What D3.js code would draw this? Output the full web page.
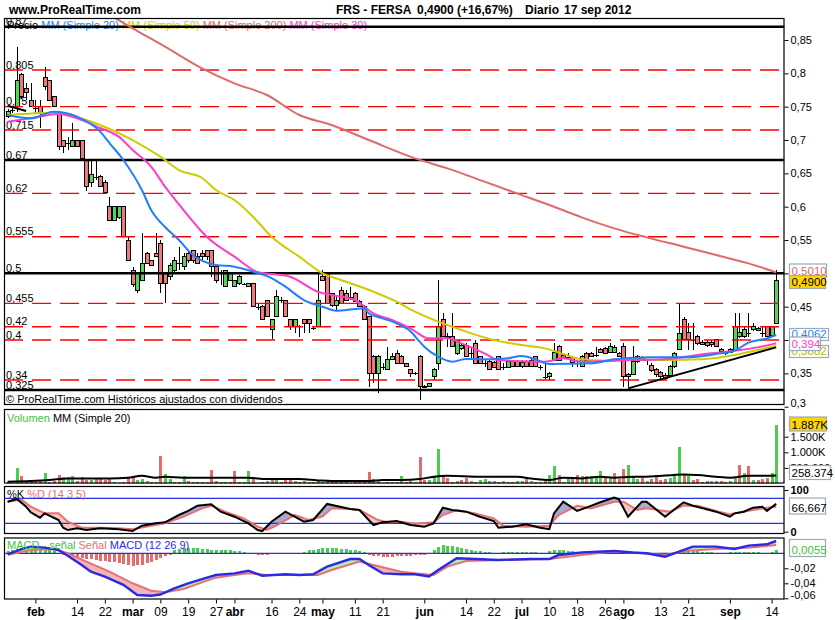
<!DOCTYPE html>
<html><head><meta charset="utf-8">
<script src="https://cdn.jsdelivr.net/npm/d3@7/dist/d3.min.js"></script>
<style>
html,body{margin:0;padding:0;background:#fff;}
svg{display:block;font-family:"Liberation Sans",Arial,Helvetica,sans-serif;}
</style></head><body>
<svg id="chart" width="835" height="620"></svg>
<script>
// ================= DATA =================
const holidays = ["2012-04-06","2012-04-09","2012-05-01"];
const firstDay = "2012-01-24", lastDay = "2012-09-17";

const opens = [
0.735,0.745,0.75,0.799,0.777,0.76,0.748,0.75,0.794,0.789,
0.765,0.74,0.70,0.695,0.69,0.70,0.70,0.67,0.636,0.645,
0.645,0.636,0.60,0.58,0.584,0.60,0.55,0.505,0.475,0.49,
0.53,0.52,0.53,0.545,0.50,0.495,0.505,0.515,0.51,0.53,
0.535,0.525,0.53,0.535,0.534,0.51,0.50,0.481,0.49,0.481,
0.485,0.484,0.481,0.485,0.45,0.45,0.459,0.416,0.436,0.46,
0.459,0.431,0.421,0.421,0.431,0.431,0.418,0.421,0.496,0.50,
0.47,0.4515,0.475,0.47,0.465,0.47,0.4575,0.451,0.435,0.376,
0.35,0.36,0.356,0.371,0.38,0.376,0.365,0.356,0.35,0.376,
0.331,0.33,0.345,0.365,0.431,0.406,0.406,0.38,0.3875,0.3925,
0.38,0.395,0.375,0.365,0.3675,0.366,0.375,0.36,0.359,0.3675,
0.3675,0.36,0.3675,0.37,0.375,0.36,0.345,0.345,0.37,0.391,
0.3775,0.375,0.374,0.365,0.361,0.38,0.38,0.378,0.386,0.3875,
0.381,0.381,0.38,0.391,0.345,0.349,0.3675,0.374,0.37,0.3625,
0.356,0.352,0.3475,0.3475,0.36,0.386,0.431,0.411,0.40,0.406,
0.397,0.397,0.397,0.401,0.386,0.38,0.3815,0.385,0.405,0.405,
0.41,0.416,0.418,0.41,0.42,0.4075,0.425];
const highs = [
0.746,0.75,0.84,0.80,0.785,0.785,0.76,0.76,0.81,0.79,
0.766,0.742,0.70,0.705,0.725,0.70,0.70,0.67,0.67,0.67,
0.648,0.64,0.615,0.60,0.60,0.60,0.555,0.51,0.50,0.56,
0.532,0.52,0.56,0.55,0.50,0.515,0.525,0.54,0.53,0.535,
0.535,0.53,0.535,0.535,0.535,0.51,0.505,0.505,0.502,0.49,
0.497,0.486,0.486,0.486,0.455,0.452,0.46,0.432,0.475,0.465,
0.46,0.432,0.432,0.422,0.432,0.432,0.42,0.505,0.505,0.502,
0.47,0.465,0.48,0.475,0.48,0.472,0.46,0.452,0.435,0.378,
0.378,0.365,0.39,0.38,0.385,0.378,0.366,0.357,0.352,0.378,
0.333,0.336,0.358,0.49,0.44,0.41,0.44,0.40,0.395,0.395,
0.39,0.40,0.376,0.37,0.37,0.368,0.376,0.365,0.37,0.37,
0.37,0.37,0.37,0.372,0.376,0.362,0.365,0.352,0.395,0.392,
0.38,0.38,0.376,0.37,0.378,0.382,0.382,0.39,0.388,0.39,
0.395,0.392,0.382,0.395,0.35,0.391,0.378,0.376,0.372,0.365,
0.358,0.354,0.35,0.362,0.382,0.455,0.435,0.425,0.425,0.408,
0.40,0.40,0.40,0.402,0.388,0.383,0.388,0.441,0.44,0.42,
0.44,0.425,0.42,0.42,0.421,0.42,0.505];
const lows = [
0.733,0.74,0.742,0.762,0.76,0.75,0.74,0.718,0.775,0.76,
0.75,0.685,0.68,0.685,0.69,0.69,0.67,0.624,0.63,0.64,
0.63,0.62,0.58,0.58,0.582,0.556,0.52,0.48,0.47,0.49,
0.515,0.512,0.525,0.47,0.455,0.49,0.50,0.505,0.505,0.515,
0.515,0.515,0.52,0.52,0.495,0.485,0.483,0.48,0.488,0.48,
0.483,0.482,0.48,0.45,0.445,0.43,0.436,0.402,0.435,0.455,
0.436,0.415,0.41,0.405,0.41,0.41,0.415,0.42,0.488,0.455,
0.45,0.445,0.455,0.46,0.46,0.457,0.45,0.43,0.33,0.335,
0.32,0.355,0.355,0.37,0.365,0.365,0.36,0.345,0.348,0.31,
0.328,0.329,0.34,0.355,0.405,0.39,0.39,0.378,0.385,0.375,
0.37,0.365,0.365,0.36,0.355,0.358,0.356,0.355,0.358,0.36,
0.36,0.358,0.36,0.36,0.36,0.355,0.342,0.34,0.368,0.37,
0.372,0.37,0.36,0.36,0.36,0.37,0.375,0.375,0.38,0.38,
0.38,0.38,0.374,0.33,0.33,0.348,0.366,0.368,0.362,0.352,
0.345,0.34,0.34,0.345,0.358,0.385,0.40,0.385,0.385,0.393,
0.392,0.39,0.39,0.39,0.38,0.378,0.38,0.384,0.403,0.403,
0.405,0.414,0.413,0.405,0.405,0.405,0.424];
const closes = [
0.743,0.745,0.789,0.765,0.772,0.75,0.748,0.74,0.78,0.76,
0.75,0.69,0.69,0.695,0.70,0.69,0.672,0.63,0.648,0.645,
0.63,0.621,0.58,0.60,0.60,0.556,0.52,0.483,0.50,0.515,
0.515,0.512,0.525,0.485,0.485,0.512,0.52,0.515,0.525,0.52,
0.52,0.515,0.525,0.525,0.51,0.49,0.50,0.504,0.50,0.489,
0.495,0.484,0.485,0.451,0.45,0.431,0.436,0.431,0.465,0.46,
0.436,0.421,0.431,0.421,0.425,0.425,0.418,0.459,0.49,0.455,
0.452,0.46,0.455,0.46,0.465,0.4575,0.45,0.431,0.35,0.35,
0.376,0.36,0.371,0.376,0.365,0.365,0.361,0.35,0.35,0.33,
0.329,0.335,0.356,0.42,0.406,0.405,0.39,0.40,0.3925,0.376,
0.38,0.365,0.365,0.365,0.356,0.359,0.356,0.36,0.3675,0.36,
0.36,0.366,0.3605,0.3605,0.3605,0.36,0.345,0.35,0.381,0.37,
0.373,0.375,0.367,0.365,0.375,0.37,0.376,0.378,0.381,0.3805,
0.391,0.389,0.375,0.345,0.349,0.3675,0.375,0.37,0.37,0.355,
0.349,0.345,0.3425,0.36,0.38,0.41,0.401,0.401,0.40,0.395,
0.394,0.3925,0.394,0.391,0.3825,0.38,0.386,0.42,0.411,0.416,
0.41,0.42,0.415,0.41,0.406,0.42,0.49];

// volume in thousands of shares
const volumes = [
40,20,500,240,60,80,40,110,340,50,
80,260,210,210,230,80,220,110,110,130,
130,110,130,60,30,60,180,200,110,150,
80,60,60,870,300,150,60,40,230,80,
40,40,50,40,430,80,60,60,60,410,
60,60,410,170,30,60,90,150,130,40,
100,100,90,60,80,60,40,100,60,80,
40,50,60,40,30,60,80,60,370,130,
100,30,60,60,60,250,60,80,40,850,
111,111,216,1100,248,185,57,79,111,185,
79,57,111,142,79,79,57,79,57,57,
79,79,142,79,57,57,79,280,560,280,
57,142,142,260,248,248,248,216,395,164,
164,350,142,460,590,248,142,164,79,142,
260,111,142,164,290,1180,290,250,111,142,
57,79,79,79,79,57,79,164,600,330,
560,111,111,142,164,350,1887];

// moving averages: [candle index, value]
const ma20 = [[0,0.7375],[5,0.7326],[10,0.7425],[15,0.735],[20,0.7125],[22,0.6955],[25,0.67],[29,0.625],[31,0.595],[34,0.5695],[37,0.55],[40,0.5275],[45,0.5125],[49,0.51],[53,0.5025],[57,0.493],[60,0.48],[64,0.46],[68,0.45],[71,0.444],[75,0.4465],[77,0.4475],[78,0.44],[81,0.4325],[84,0.425],[87,0.413],[89,0.3975],[90,0.39],[93,0.375],[96,0.3675],[99,0.3715],[105,0.371],[108,0.3725],[111,0.376],[114,0.371],[117,0.364],[126,0.365],[131,0.371],[139,0.374],[146,0.374],[153,0.379],[157,0.384],[160,0.396],[164,0.4025],[166,0.4075]];
const ma30 = [[0,0.7275],[5,0.7325],[11,0.739],[16,0.73],[20,0.718],[24,0.705],[27,0.685],[31,0.66],[34,0.63],[38,0.595],[43,0.555],[49,0.525],[54,0.502],[61,0.495],[67,0.4725],[70,0.4675],[75,0.46],[79,0.44],[83,0.43],[87,0.4175],[91,0.4025],[95,0.4025],[98,0.395],[103,0.38],[106,0.37],[116,0.3675],[120,0.3725],[124,0.3675],[130,0.3685],[135,0.37],[142,0.371],[149,0.3775],[157,0.384],[162,0.389],[166,0.395]];
const ma50 = [[0,0.7375],[10,0.741],[13,0.7375],[20,0.7225],[27,0.70],[33,0.675],[37,0.655],[42,0.643],[45,0.625],[49,0.61],[53,0.585],[57,0.555],[63,0.525],[68,0.50],[72,0.49],[79,0.4725],[84,0.4575],[87,0.446],[93,0.4275],[98,0.415],[105,0.40],[111,0.3925],[116,0.3875],[120,0.379],[124,0.371],[129,0.369],[135,0.371],[142,0.37],[150,0.371],[157,0.3775],[162,0.385],[166,0.391]];
const ma200 = [[21,0.892],[27,0.8675],[34,0.84],[42,0.8075],[49,0.785],[56,0.7675],[63,0.7375],[70,0.7225],[78,0.70],[88,0.6725],[95,0.6575],[103,0.6375],[110,0.62],[117,0.6025],[124,0.584],[131,0.5675],[138,0.554],[146,0.54],[153,0.5275],[160,0.515],[166,0.5015]];
const volMA = [[0,57],[5,79],[9,111],[13,164],[17,164],[22,164],[26,185],[29,248],[32,185],[34,216],[38,185],[42,185],[49,185],[52,185],[56,142],[60,142],[63,142],[67,100],[70,79],[74,79],[78,79],[81,111],[85,111],[89,142],[92,216],[95,248],[102,216],[110,216],[113,164],[117,111],[120,185],[124,164],[128,216],[131,185],[135,216],[138,216],[146,290],[149,270],[153,216],[156,185],[160,248],[164,248],[166,258]];

// stochastic %K / %D (14 3 5)
const stochK = [[0,72],[2,78.5],[4,60],[5,46.5],[7,33.6],[8,44],[11,28],[12,9.6],[13,4],[15,8],[17,4],[20,8],[24,6],[27,1.6],[29,14.5],[32,20],[34,22.5],[37,40],[39,50],[41,62.4],[44,65.7],[46,48],[49,36],[52,20],[54,4],[55,1.6],[57,24],[60,48],[62,36],[64,24],[66,28],[69,66.5],[74,54.5],[76,52],[79,16],[81,22.5],[84,25.6],[87,16],[90,12],[92,20],[94,57.6],[96,52],[99,48],[102,36],[105,25.6],[106,9.6],[109,12],[112,17.7],[115,9.6],[117,6],[118,44],[120,72],[123,50],[125,57.6],[128,70.5],[131,81.6],[132,78],[134,36],[137,72],[138,72],[142,36],[146,70.5],[148,62.4],[153,48],[156,36],[157,44],[159,48],[161,57.6],[163,60],[164,50],[166,66.7]];
const stochD = [[0,72],[3,77],[5,60],[8,44],[11,44],[13,24],[16,9.6],[20,9.6],[24,8],[27,6],[31,14.5],[34,20],[38,36],[42,56],[44,62.4],[47,48],[51,32],[54,12],[56,4],[58,14.5],[62,40],[65,28],[68,36],[70,56],[74,54.5],[76,52],[80,28],[82,22.5],[85,24],[88,19],[92,22.5],[94,40],[97,52],[101,44],[105,32],[107,14.5],[112,12],[117,14.5],[119,40],[123,62.4],[126,56],[131,72],[133,72],[136,52],[138,56],[143,48],[146,62.4],[149,62.4],[153,50],[156,41.6],[160,50],[164,57.6],[166,60]];

// MACD (12 26 9)
const macdLine = [[0,-0.0013],[3,0.0057],[5,0.0089],[8,0.0075],[11,0.0044],[13,-0.0032],[16,-0.0156],[18,-0.0245],[21,-0.031],[25,-0.042],[28,-0.0556],[31,-0.0565],[33,-0.055],[36,-0.0467],[39,-0.04],[42,-0.0343],[45,-0.029],[49,-0.0267],[52,-0.0232],[55,-0.0299],[60,-0.028],[63,-0.029],[66,-0.028],[69,-0.0178],[74,-0.0076],[76,-0.0076],[78,-0.0156],[81,-0.0267],[85,-0.028],[88,-0.028],[91,-0.031],[93,-0.0222],[97,-0.0067],[101,-0.0076],[106,-0.009],[113,-0.0076],[117,-0.0076],[119,-0.0023],[124,0.001],[131,0.003],[135,0.001],[138,0],[142,-0.0045],[145,0.0023],[148,0.0089],[153,0.0089],[157,0.0057],[160,0.0102],[164,0.012],[166,0.0164]];
const signalLine = [[0,-0.002],[5,0.0044],[10,0.0057],[13,0],[17,-0.011],[22,-0.0245],[27,-0.04],[31,-0.05],[34,-0.052],[38,-0.0476],[42,-0.0387],[45,-0.0325],[49,-0.029],[52,-0.0267],[56,-0.029],[63,-0.029],[67,-0.029],[70,-0.0222],[76,-0.011],[79,-0.0156],[85,-0.0245],[88,-0.0267],[92,-0.029],[95,-0.0178],[99,-0.0102],[106,-0.009],[117,-0.0076],[124,-0.0022],[131,0.0023],[138,-0.0004],[142,-0.0022],[147,0.0035],[153,0.0057],[160,0.0075],[166,0.011]];
// histogram (MACD - signal), in thousandths
const macdHist = [
3,4,6,7,8,8,7,6,5,4,3,
-1,-2,-3,-4,-5,-6,-7,-8,-9,-10,-10,-11,-12,-13,-14,-15,-17,-16,-15,-13,-11,-9,-6,-4,-2,
4,6,7,7,7,7,6,6,5,5,5,4,4,3,3,2,1,
-1,-2,-2,-2,-1,-1,0,1,1,0,0,
2,4,5,6,7,7,7,7,6,6,5,4,3,2,
-2,-3,-4,-5,-5,-5,-4,-4,-3,-3,-2,-2,-2,-1,
5,8,11,10,10,9,7,6,4,
3,3,2,2,1,1,
2,2,2,2,2,2,2,2,1,1,
3,4,4,4,3,3,2,
2,2,1,1,1,1,1,0,
0,-1,-1,0,0,0,
-1,-1,-2,-2,-1,0,1,
3,4,4,3,3,2,2,2,1,
0,-1,
2,2,2,2,2,2,2,1,1,2,
5];

// horizontal levels drawn on the price panel
const levelValues = [0.87,0.805,0.75,0.715,0.67,0.62,0.555,0.5,0.455,0.42,0.4,0.34,0.325];
const levelLabels = ["0,87","0,805","0,75","0,715","0,67","0,62","0,555","0,5","0,455","0,42","0,4","0,34","0,325"];
const levelSolid  = [true,false,false,false,true,false,false,true,false,false,false,false,true];
// trend lines [candleIndex, value]
const trendLines = [[[134,0.3275],[166,0.389]],[[0,0.7515],[4,0.7435]]];

const priceTicks = [0.85,0.8,0.75,0.7,0.65,0.6,0.55,0.5,0.45,0.4,0.35,0.3];
const volTicks = [500,1000,1500];
const stochTicks = [0,100];
const macdTicks = [-0.02,-0.04,-0.06];
const xTickDates = ["2012-02-01","2012-02-14","2012-02-22","2012-03-01","2012-03-09","2012-03-19","2012-03-27","2012-04-02","2012-04-16","2012-04-24","2012-05-02","2012-05-11","2012-05-21","2012-06-01","2012-06-14","2012-06-22","2012-07-02","2012-07-10","2012-07-18","2012-07-26","2012-08-01","2012-08-13","2012-08-21","2012-09-03","2012-09-14"];
const xTickLabels = ["feb","14","22","mar","09","19","27","abr","16","24","may","11","21","jun","14","22","jul","10","18","26","ago","13","21","sep","14"];
const monthLabels = ["feb","mar","abr","may","jun","jul","ago","sep"];

// ================= CHART =================
const C = {green:"#55d655", red:"#f07878", vgreen:"#4ccc4c", vred:"#e86a6a",
  ma20:"#1f7fff", ma50:"#cccc00", ma200:"#e06a6a", ma30:"#ff3cc8",
  macd:"#2a2ae6", sig:"#e87070", axisBlue:"#2233dd", boxBorder:"#9aabb8"};

const dates = [];
{
  const d = new Date(firstDay + "T00:00:00Z"), end = new Date(lastDay + "T00:00:00Z").getTime();
  while (d.getTime() <= end) {
    const s = d.toISOString().slice(0,10), wd = d.getUTCDay();
    if (wd > 0 && wd < 6 && !holidays.includes(s)) dates.push(s);
    d.setUTCDate(d.getUTCDate() + 1);
  }
}
const L = 4, R = 784.5;
const P = {main:{t:18,b:405}, vol:{t:409,b:483.5}, sto:{t:486,b:534}, mac:{t:537.5,b:599.5}};

const x = d3.scalePoint().domain(dates).range([7.6, 776.2]);
const X = j => x(dates[j]);
const yP = d3.scaleLinear().domain([0.3,0.85]).range([406.7,40]);
const yV = d3.scaleLinear().domain([0,1500]).range([483.5,436.7]);
const yS = d3.scaleLinear().domain([0,100]).range([531.7,490]);
const yM = d3.scaleLinear().domain([-0.06,0.02]).range([598.3,538.3]);
const comma = v => String(v).replace(".", ",");

const svg = d3.select("#chart");
svg.append("rect").attr("width",835).attr("height",620).attr("fill","#fff");
const defs = svg.append("defs");
Object.entries(P).forEach(([k,p]) => {
  defs.append("clipPath").attr("id","clip-"+k).append("rect")
    .attr("x",L).attr("y",p.t).attr("width",R-L).attr("height",p.b-p.t);
});

// ---- header ----
const hdr = svg.append("g").attr("font-size",12).attr("font-weight","bold").attr("fill","#000");
hdr.append("text").attr("x",9).attr("y",14).text("www.ProRealTime.com");
hdr.append("text").attr("x",336).attr("y",14).text("FRS - FERSA");
hdr.append("text").attr("x",417).attr("y",14).text("0,4900 (+16,67%)");
hdr.append("text").attr("x",525).attr("y",14).text("Diario");
hdr.append("text").attr("x",564).attr("y",14).text("17 sep 2012");

// ---- main price panel ----
const gm = svg.append("g").attr("clip-path","url(#clip-main)");
// legend
const leg = gm.append("text").attr("x",7).attr("y",29).attr("font-size",11);
leg.append("tspan").attr("fill","#000").text("Precio ");
leg.append("tspan").attr("fill",C.ma20).text("MM (Simple 20) ");
leg.append("tspan").attr("fill",C.ma50).text("MM (Simple 50) ");
leg.append("tspan").attr("fill",C.ma200).text("MM (Simple 200) ");
leg.append("tspan").attr("fill",C.ma30).text("MM (Simple 30)");

// level labels
gm.append("g").attr("font-size",11).attr("fill","#000").selectAll("text")
  .data(levelValues).join("text")
  .attr("x",6).attr("y",v => yP(v) - 1.5).text((v,i) => levelLabels[i]);

// candles
const gc = gm.append("g").attr("shape-rendering","crispEdges");
const idx = d3.range(dates.length);
gc.selectAll("line.wick").data(idx).join("line").attr("class","wick")
  .attr("x1",j => Math.round(X(j))+0.5).attr("x2",j => Math.round(X(j))+0.5)
  .attr("y1",j => yP(highs[j])).attr("y2",j => yP(lows[j]))
  .attr("stroke","#000").attr("stroke-width",1);
gc.selectAll("rect.body").data(idx.filter(j => opens[j] !== closes[j])).join("rect").attr("class","body")
  .attr("x",j => Math.round(X(j))-1.5).attr("width",4)
  .attr("y",j => yP(Math.max(opens[j],closes[j])))
  .attr("height",j => Math.max(1, Math.abs(yP(opens[j]) - yP(closes[j]))))
  .attr("fill",j => closes[j] > opens[j] ? C.green : C.red)
  .attr("stroke","#000").attr("stroke-width",1);
gc.selectAll("line.doji").data(idx.filter(j => opens[j] === closes[j])).join("line").attr("class","doji")
  .attr("x1",j => Math.round(X(j))-2).attr("x2",j => Math.round(X(j))+3)
  .attr("y1",j => Math.round(yP(opens[j]))+0.5).attr("y2",j => Math.round(yP(opens[j]))+0.5)
  .attr("stroke","#000").attr("stroke-width",1);

// horizontal levels
gm.append("g").selectAll("line").data(levelValues).join("line")
  .attr("x1",L).attr("x2",R).attr("y1",v => yP(v)).attr("y2",v => yP(v))
  .attr("stroke",(v,i) => levelSolid[i] ? "#000" : "#ff0000")
  .attr("stroke-width",(v,i) => levelSolid[i] ? 2.5 : 1.4)
  .attr("stroke-dasharray",(v,i) => levelSolid[i] ? null : "19,9");

// moving averages
const maLine = d3.line().x(d => X(d[0])).y(d => yP(d[1])).curve(d3.curveMonotoneX);
[[ma200,C.ma200],[ma50,C.ma50],[ma30,C.ma30],[ma20,C.ma20]].forEach(([pts,col]) => {
  gm.append("path").attr("d",maLine(pts)).attr("fill","none").attr("stroke",col).attr("stroke-width",2);
});
// trend lines
const tl = d3.line().x(d => X(d[0])).y(d => yP(d[1]));
trendLines.forEach(t => gm.append("path").attr("d",tl(t)).attr("stroke","#000").attr("stroke-width",2).attr("fill","none"));

gm.append("text").attr("x",6).attr("y",403).attr("font-size",11).attr("fill","#000")
  .text("© ProRealTime.com  Históricos ajustados con dividendos");

// ---- volume panel ----
const gv = svg.append("g").attr("clip-path","url(#clip-vol)");
gv.append("g").attr("shape-rendering","crispEdges").selectAll("rect").data(idx).join("rect")
  .attr("x",j => Math.round(X(j))-1).attr("width",3)
  .attr("y",j => yV(volumes[j])).attr("height",j => yV(0) - yV(volumes[j]))
  .attr("fill",j => (j === 0 || closes[j] >= closes[j-1]) ? C.vgreen : C.vred);
gv.append("path").attr("d",d3.line().x(d => X(d[0])).y(d => yV(d[1])).curve(d3.curveMonotoneX)(volMA))
  .attr("fill","none").attr("stroke","#000").attr("stroke-width",2);
const lv = gv.append("text").attr("x",7).attr("y",421.5).attr("font-size",11);
lv.append("tspan").attr("fill","#3cc43c").text("Volumen ");
lv.append("tspan").attr("fill","#000").text("MM (Simple 20)");

// ---- stochastic panel ----
const gs = svg.append("g").attr("clip-path","url(#clip-sto)");
const areaTop = (ys, top) => d3.area().x(d => X(d[0])).y0(top).y1(d => ys(d[1]));
const areaBot = (ys, bot) => d3.area().x(d => X(d[0])).y0(bot).y1(d => ys(d[1]));
defs.append("clipPath").attr("id","dAbove").append("path").attr("d",areaTop(yS,P.sto.t)(stochD));
defs.append("clipPath").attr("id","kAbove").append("path").attr("d",areaTop(yS,P.sto.t)(stochK));
gs.append("g").attr("clip-path","url(#dAbove)").append("path")
  .attr("d",areaBot(yS,P.sto.b)(stochK)).attr("fill","#a9a9d2");
gs.append("g").attr("clip-path","url(#kAbove)").append("path")
  .attr("d",areaBot(yS,P.sto.b)(stochD)).attr("fill","#f5c6c6");
[80,20].forEach(v => gs.append("line").attr("x1",L).attr("x2",R).attr("y1",yS(v)).attr("y2",yS(v))
  .attr("stroke",C.axisBlue).attr("stroke-width",1.2));
const sl = d3.line().x(d => X(d[0])).y(d => yS(d[1]));
gs.append("path").attr("d",sl(stochD)).attr("fill","none").attr("stroke",C.sig).attr("stroke-width",2);
gs.append("path").attr("d",sl(stochK)).attr("fill","none").attr("stroke","#000").attr("stroke-width",2);
const ls = gs.append("text").attr("x",7).attr("y",498).attr("font-size",11);
ls.append("tspan").attr("fill","#000").text("%K ");
ls.append("tspan").attr("fill",C.sig).text("%D (14 3 5)");

// ---- MACD panel ----
const gmc = svg.append("g").attr("clip-path","url(#clip-mac)");
gmc.append("g").attr("shape-rendering","crispEdges").selectAll("rect").data(idx).join("rect")
  .attr("x",j => Math.round(X(j))-1).attr("width",3)
  .attr("y",j => Math.min(yM(0), yM(macdHist[j]/1000)))
  .attr("height",j => Math.abs(yM(macdHist[j]/1000) - yM(0)))
  .attr("fill",j => macdHist[j] >= 0 ? C.vgreen : C.vred);
gmc.append("line").attr("x1",L).attr("x2",R).attr("y1",yM(0)).attr("y2",yM(0))
  .attr("stroke",C.axisBlue).attr("stroke-width",1.2);
defs.append("clipPath").attr("id","sigAbove").append("path").attr("d",areaTop(yM,P.mac.t)(signalLine));
defs.append("clipPath").attr("id","macAbove").append("path").attr("d",areaTop(yM,P.mac.t)(macdLine));
gmc.append("g").attr("clip-path","url(#sigAbove)").append("path").attr("d",areaBot(yM,P.mac.b)(macdLine)).attr("fill","#b2efb2");
gmc.append("g").attr("clip-path","url(#macAbove)").append("path").attr("d",areaBot(yM,P.mac.b)(signalLine)).attr("fill","#f4b4b4");
const ml = d3.line().x(d => X(d[0])).y(d => yM(d[1]));
gmc.append("path").attr("d",ml(signalLine)).attr("fill","none").attr("stroke",C.sig).attr("stroke-width",2);
gmc.append("path").attr("d",ml(macdLine)).attr("fill","none").attr("stroke",C.macd).attr("stroke-width",2.4);
const lm = gmc.append("text").attr("x",7).attr("y",549).attr("font-size",11);
lm.append("tspan").attr("fill","#3cc43c").text("MACD - señal ");
lm.append("tspan").attr("fill",C.sig).text("Señal ");
lm.append("tspan").attr("fill",C.macd).text("MACD (12 26 9)");

// ---- panel frames ----
Object.values(P).forEach(p => svg.append("rect").attr("x",L+0.5).attr("y",p.t+0.5)
  .attr("width",R-L-1).attr("height",p.b-p.t-1).attr("fill","none").attr("stroke","#000").attr("stroke-width",1.2));

// ---- right axes ----
function rightAxis(scale, ticks, fmt, opts={}) {
  const g = svg.append("g").attr("transform",`translate(${R},0)`)
    .call(d3.axisRight(scale).tickValues(ticks).tickSize(4).tickPadding(2).tickFormat(fmt));
  g.select(".domain").remove();
  g.selectAll("text").attr("font-size",11).attr("font-family",null).attr("fill","#000")
    .attr("font-weight",opts.bold ? "bold" : null);
  g.selectAll("line").attr("stroke","#000");
  return g;
}
const pa = rightAxis(yP, priceTicks, comma);
pa.selectAll(".tick").filter(d => d === 0.3).select("text").attr("dy","0.0em");
rightAxis(yV, volTicks, v => v >= 1000 ? d3.format(",")(v).replace(",",".") + "K" : v + ".000");
rightAxis(yS, stochTicks, v => v, {bold:true});
const ma = rightAxis(yM, macdTicks, comma);
ma.selectAll(".tick").filter(d => d === -0.06).select("text").attr("dy","0.0em");

// ---- value boxes ----
function box(y, w, h, txt, color, fill) {
  const g = svg.append("g");
  g.append("rect").attr("x",789.5).attr("y",y+0.5).attr("width",w).attr("height",h)
    .attr("fill",fill || "#fff").attr("stroke",C.boxBorder).attr("stroke-width",1.2);
  g.append("text").attr("x",791.5).attr("y",y + h - 2).attr("font-size",11.5).attr("fill",color).text(txt);
}
box(263.5, 37, 13, "0,5010", C.ma200);
box(275, 36, 13, "0,4900", "#000", "#ffd400");
box(345, 39, 12, "0,3882", "#b8b800");
box(328, 39, 12, "0,4062", C.ma20);
box(336.5, 31, 13.5, "0,394", C.ma30);
box(416.5, 37, 14, "1.887K", "#000", "#ffd400");
box(465, 41, 14, "258.374", "#000");
box(497.5, 36, 16, "66,667", "#000");
box(539, 36, 17, "0,0055", "#3cc43c");

// ---- bottom date axis ----
const xa = svg.append("g").attr("transform",`translate(0,${P.mac.b})`)
  .call(d3.axisBottom(x).tickValues(xTickDates).tickSize(4).tickPadding(4)
    .tickFormat((d,i) => xTickLabels[i]));
xa.select(".domain").remove();
xa.selectAll("line").attr("stroke","#000");
xa.selectAll("text").attr("font-size",12).attr("font-family",null).attr("fill","#000")
  .attr("font-weight",function(){ return monthLabels.includes(this.textContent) ? "bold" : null; });
</script></body></html>
